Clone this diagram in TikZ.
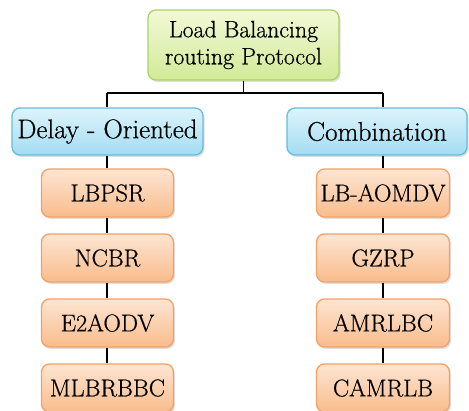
\documentclass[tikz,border=0pt]{standalone}
\usepackage{fontspec}
\setmainfont{Latin Modern Roman}[FakeBold=0.6]
\usetikzlibrary{shadows}
\definecolor{gtop}{HTML}{F2F9D6}
\definecolor{gbot}{HTML}{D2EA98}
\definecolor{gbrd}{HTML}{A9D26A}
\definecolor{btop}{HTML}{DDF4FC}
\definecolor{bbot}{HTML}{A3DCF2}
\definecolor{bbrd}{HTML}{68BCDC}
\definecolor{otop}{HTML}{FDE5D2}
\definecolor{obot}{HTML}{F9BC8C}
\definecolor{obrd}{HTML}{F2A266}
\tikzset{
  x=1pt,y=-1pt,
  box/.style={rounded corners=8pt, line width=1.3pt, align=center, inner sep=0pt,
    drop shadow={opacity=0.25, shadow xshift=1.5pt, shadow yshift=-2pt},
    font=\fontsize{24.3}{27}\selectfont},
  rootbox/.style={box, draw=gbrd, top color=gtop, bottom color=gbot,
    minimum width=191pt, minimum height=70pt, font=\fontsize{23.8}{27}\selectfont},
  catbox/.style={box, draw=bbrd, top color=btop, bottom color=bbot, minimum height=47pt,
    font=\fontsize{27}{30}\selectfont},
  leafbox/.style={box, draw=obrd, top color=otop, bottom color=obot,
    minimum width=132pt, minimum height=48pt},
  conn/.style={line width=1.6pt, black}
}
\begin{document}
\begin{tikzpicture}
\useasboundingbox (0,0) rectangle (469,411);
\node[rootbox] (root) at (243.5,45) {Load Balancing\\routing Protocol};
\node[catbox, minimum width=191pt] (cl) at (107.5,131.5) {Delay - Oriented};
\node[catbox, minimum width=180pt] (cr) at (377,131.5) {Combination};
\node[leafbox] (l1) at (107.5,193) {LBPSR};
\node[leafbox] (l2) at (107.5,258) {NCBR};
\node[leafbox] (l3) at (107.5,323) {E2AODV};
\node[leafbox] (l4) at (107.5,388) {MLBRBBC};
\node[leafbox, minimum width=133pt] (r1) at (383,193) {LB-AOMDV};
\node[leafbox, minimum width=133pt] (r2) at (383,258) {GZRP};
\node[leafbox, minimum width=133pt] (r3) at (383,323) {AMRLBC};
\node[leafbox, minimum width=133pt] (r4) at (383,388) {CAMRLB};
\coordinate (jm) at (243.5,93);
\coordinate (jl) at (107,93);
\coordinate (jr) at (383,93);
\draw[conn] (root.south) -- (jm);
\draw[conn] (jl) -- (jr);
\draw[conn] (jl) -- (jl |- cl.north);
\draw[conn] (jr) -- (jr |- cr.north);
\draw[conn] (jl |- cl.south) -- (jl |- l1.north);
\draw[conn] (jl |- l1.south) -- (jl |- l2.north);
\draw[conn] (jl |- l2.south) -- (jl |- l3.north);
\draw[conn] (jl |- l3.south) -- (jl |- l4.north);
\draw[conn] (r1.north |- cr.south) -- (r1.north);
\draw[conn] (r1.south) -- (r2.north);
\draw[conn] (r2.south) -- (r3.north);
\draw[conn] (r3.south) -- (r4.north);
\end{tikzpicture}
\end{document}
